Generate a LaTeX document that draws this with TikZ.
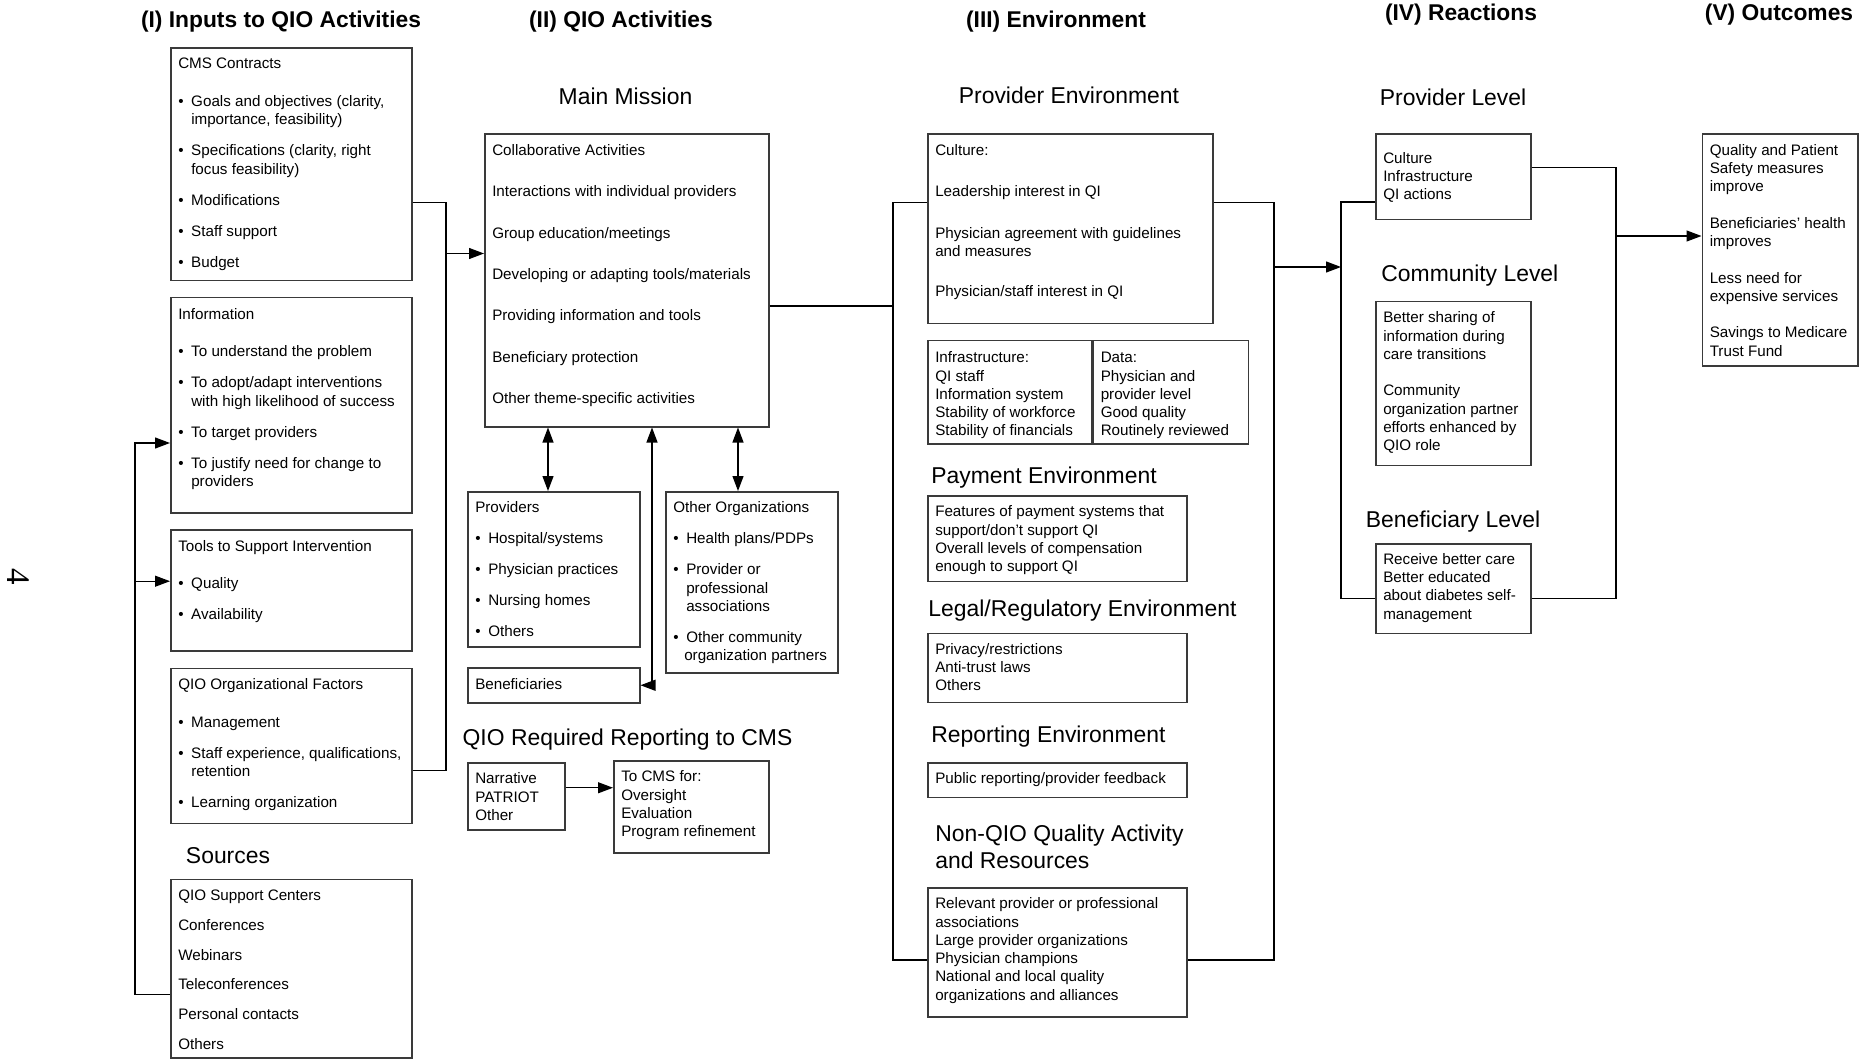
\documentclass[tikz,border=0pt]{standalone}
\usepackage{fontspec}
\setmainfont{Liberation Sans}
\newfontfamily\serifpage{Liberation Serif}
\usetikzlibrary{arrows.meta,calc}
\definecolor{boxline}{HTML}{3A3A3A}
\newcommand{\boxfont}{\fontsize{7.6pt}{9.15pt}\selectfont}
\newcommand{\headfont}{\fontsize{11.45pt}{13.3pt}\selectfont}
\newcommand{\titlefont}{\fontsize{11.4pt}{13pt}\selectfont\bfseries}
\newcommand{\itm}{\makebox[6.5pt][l]{\textbullet}}
\newcommand{\itc}{\hspace*{6.5pt}}
\newcommand{\boxtext}[4][11pt]{\begin{minipage}[c][#3][t]{#2}\rule{0pt}{#1}#4\end{minipage}}
\tikzset{
  >={Triangle[length=7.5pt,width=5.5pt]},
  infobox/.style={
    draw=boxline,
    line width=0.75pt,
    anchor=north west,
    inner xsep=3.75pt,
    inner ysep=0pt,
    font=\boxfont,
  },
  heading/.style={font=\headfont, inner sep=0pt},
  coltitle/.style={font=\titlefont, inner sep=0pt, anchor=base},
  link/.style={line width=0.6pt, draw=black},
}

\begin{document}
\begin{tikzpicture}[x=0.5pt, y=-0.5pt, line join=miter]
  \fill[white] (0,0) rectangle (1869,1059);
  \useasboundingbox (0,0) rectangle (1869,1059);

  \node[rotate=-90, font=\serifpage\fontsize{16.5pt}{16.5pt}\selectfont, inner sep=0pt] (pagenum) at (18.7,576.5) {4};

  \node[coltitle] (titleI) at (281,28) {(I) Inputs to QIO Activities};
  \node[coltitle] (titleII) at (621,28) {(II) QIO Activities};
  \node[coltitle] (titleIII) at (1056,28) {(III) Environment};
  \node[coltitle] (titleIV) at (1461,21) {(IV) Reactions};
  \node[coltitle] (titleV) at (1779,21) {(V) Outcomes};

  % (I) inputs
  \node[infobox] (cms) at (170,47.2) {\boxtext[10.5pt]{113pt}{116.2pt}{CMS Contracts\\[9.6pt]
    \itm Goals and objectives (clarity,\\
    \itc importance, feasibility)\\[6.35pt]
    \itm Specifications (clarity, right\\
    \itc focus feasibility)\\[6.35pt]
    \itm Modifications\\[6.35pt]
    \itm Staff support\\[6.35pt]
    \itm Budget}};
  \node[infobox] (info) at (170,296.8) {\boxtext{113pt}{107.6pt}{Information\\[9.45pt]
    \itm To understand the problem\\[6.35pt]
    \itm To adopt/adapt interventions\\
    \itc with high likelihood of success\\[6.35pt]
    \itm To target providers\\[6.35pt]
    \itm To justify need for change to\\
    \itc providers}};
  \node[infobox] (tools) at (170,529.3) {\boxtext[10.5pt]{113pt}{60.35pt}{Tools to Support Intervention\\[9.8pt]
    \itm Quality\\[6.2pt]
    \itm Availability}};
  \node[infobox] (qioorg) at (170,667.8) {\boxtext[10.5pt]{113pt}{77.35pt}{QIO Organizational Factors\\[9.8pt]
    \itm Management\\[6.35pt]
    \itm Staff experience, qualifications,\\
    \itc retention\\[6.35pt]
    \itm Learning organization}};
  \node[heading, anchor=base] (sourceshead) at (228,863) {Sources};
  \node[infobox] (sources) at (170,878.5) {\boxtext[10.5pt]{113pt}{89.25pt}{QIO Support Centers\\[5.8pt]
    Conferences\\[5.8pt]
    Webinars\\[5.8pt]
    Teleconferences\\[5.8pt]
    Personal contacts\\[5.8pt]
    Others}};

  % (II) QIO activities
  \node[heading, anchor=base] (mainhead) at (625.5,105) {Main Mission};
  \node[infobox] (main) at (484,133.3) {\boxtext[10.75pt]{134.5pt}{146.35pt}{Collaborative Activities\\[11.5pt]
    Interactions with individual providers\\[11.5pt]
    Group education/meetings\\[11.5pt]
    Developing or adapting tools/materials\\[11.5pt]
    Providing information and tools\\[11.5pt]
    Beneficiary protection\\[11.5pt]
    Other theme-specific activities}};
  \node[infobox] (providers) at (467,491) {\boxtext[10.5pt]{78.5pt}{77.5pt}{Providers\\[6.35pt]
    \itm Hospital/systems\\[6.35pt]
    \itm Physician practices\\[6.35pt]
    \itm Nursing homes\\[6.35pt]
    \itm Others}};
  \node[infobox] (otherorg) at (665,491) {\boxtext[10.5pt]{78.5pt}{90.5pt}{Other Organizations\\[6.35pt]
    \itm Health plans/PDPs\\[6.35pt]
    \itm Provider or\\
    \itc professional\\
    \itc associations\\[6.35pt]
    \itm Other community\\
    \hspace*{5.5pt}organization partners}};
  \node[infobox] (benef) at (467,667) {\boxtext{78.5pt}{17.5pt}{Beneficiaries}};
  \node[heading, anchor=base] (reporthead) at (627.5,745) {QIO Required Reporting to CMS};
  \node[infobox] (narrative) at (467,762) {\boxtext[10.5pt]{41pt}{33.5pt}{Narrative\\PATRIOT\\Other}};
  \node[infobox] (tocms) at (613,760) {\boxtext[10.5pt]{70pt}{46pt}{To CMS for:\\Oversight\\Evaluation\\Program refinement}};

  % (III) environment
  \node[heading, anchor=base] (provenvhead) at (1069,104) {Provider Environment};
  \node[infobox] (culture) at (927,133.3) {\boxtext[10.75pt]{135pt}{94.85pt}{Culture:\\[11.35pt]
    Leadership interest in QI\\[11.85pt]
    Physician agreement with guidelines\\
    and measures\\[10.85pt]
    Physician/staff interest in QI}};
  \node[infobox] (infra) at (927,340) {\boxtext{74.5pt}{51.5pt}{Infrastructure:\\QI staff\\Information system\\Stability of workforce\\Stability of financials}};
  \node[infobox] (data) at (infra.north east) {\boxtext{70pt}{51.5pt}{Data:\\Physician and\\provider level\\Good quality\\Routinely reviewed}};
  \node[heading, anchor=base west] (payhead) at (931,483) {Payment Environment};
  \node[infobox] (payment) at (927,495) {\boxtext[10.5pt]{122pt}{42.9pt}{Features of payment systems that\\support/don't support QI\\Overall levels of compensation\\enough to support QI}};
  \node[heading, anchor=base west] (legalhead) at (928,616.5) {Legal/Regulatory Environment};
  \node[infobox] (legal) at (927,632.5) {\boxtext[10.5pt]{122pt}{34.55pt}{Privacy/restrictions\\Anti-trust laws\\Others}};
  \node[heading, anchor=base west] (repenvhead) at (931,742) {Reporting Environment};
  \node[infobox] (public) at (927,762) {\boxtext[10.5pt]{122pt}{17.25pt}{Public reporting/provider feedback}};
  \node[heading, anchor=west, align=left] (nonqiohead) at (935,847) {Non-QIO Quality Activity\\and Resources};
  \node[infobox] (nonqio) at (927,887) {\boxtext[10.5pt]{122pt}{64.5pt}{Relevant provider or professional\\associations\\Large provider organizations\\Physician champions\\National and local quality\\organizations and alliances}};

  % (IV) reactions
  \node[heading, anchor=base west] (provlvlhead) at (1379.5,106) {Provider Level};
  \node[infobox] (provlvl) at (1375,133.5) {\boxtext[14.5pt]{70pt}{42.75pt}{Culture\\Infrastructure\\QI actions}};
  \node[heading, anchor=base west] (commlvlhead) at (1381,281.5) {Community Level};
  \node[infobox] (commlvl) at (1375,301) {\boxtext[10.5pt]{70pt}{81.75pt}{Better sharing of\\information during\\care transitions\\[9.1pt]
    Community\\organization partner\\efforts enhanced by\\QIO role}};
  \node[heading, anchor=base west] (benlvlhead) at (1365.5,527) {Beneficiary Level};
  \node[infobox] (benlvl) at (1375,543) {\boxtext[10.25pt]{70pt}{44.85pt}{Receive better care\\Better educated\\about diabetes self-\\management}};

  % (V) outcomes
  \node[infobox] (outcomes) at (1701.5,133.5) {\boxtext[10.5pt]{70.4pt}{115.9pt}{Quality and Patient\\Safety measures\\improve\\[9.1pt]
    Beneficiaries' health\\improves\\[9.1pt]
    Less need for\\expensive services\\[9.1pt]
    Savings to Medicare\\Trust Fund}};

  % connectors
  \coordinate (inA) at (446,202.5);
  \coordinate (inB) at (446,770.3);
  \coordinate (inC) at (446,253.5);
  \draw[link] (cms.east |- inA) -- (inA) -- (inB) -- (qioorg.east |- inB);
  \draw[link, ->] (inC) -- (main.west |- inC);

  \coordinate (fbA) at (135,994.4);
  \coordinate (fbB) at (135,443);
  \coordinate (fbC) at (135,581.2);
  \draw[link, ->] (sources.west |- fbA) -- (fbA) -- (fbB) -- (info.west |- fbB);
  \draw[link, ->] (fbC) -- (tools.west |- fbC);

  \coordinate (provlink) at ($(main.south west)+(64,0)$);
  \coordinate (benlink) at ($(main.south west)+(168,0)$);
  \coordinate (orglink) at ($(main.south west)+(254,0)$);
  \draw[link, <->] (provlink) -- (provlink |- providers.north);
  \draw[link, <->] (orglink) -- (orglink |- otherorg.north);
  \draw[link, <->] (benlink) -- (benlink |- benef.east) -- (benef.east);

  \coordinate (rep) at ($(narrative.east)+(0,-8.5)$);
  \draw[link, ->] (rep) -- (rep -| tocms.west);

  \coordinate (envLtop) at (893,202.7);
  \coordinate (envLbot) at (893,960);
  \coordinate (envLmid) at (893,306);
  \draw[link] (culture.west |- envLtop) -- (envLtop) -- (envLbot) -- (nonqio.west |- envLbot);
  \draw[link] (main.east |- envLmid) -- (envLmid);

  \coordinate (envRtop) at (1274,202.7);
  \coordinate (envRbot) at (1274,960);
  \coordinate (envRmid) at (1274,267);
  \draw[link] (culture.east |- envRtop) -- (envRtop) -- (envRbot) -- (nonqio.east |- envRbot);

  \coordinate (reaLtop) at (1341,202);
  \coordinate (reaLbot) at (1341,598.8);
  \coordinate (reaLmid) at (1341,267);
  \draw[link, ->] (envRmid) -- (reaLmid);
  \draw[link] (provlvl.west |- reaLtop) -- (reaLtop) -- (reaLbot) -- (benlvl.west |- reaLbot);

  \coordinate (reaRtop) at (1616,167.3);
  \coordinate (reaRbot) at (1616,598.8);
  \coordinate (reaRmid) at (1616,236);
  \draw[link] (provlvl.east |- reaRtop) -- (reaRtop) -- (reaRbot) -- (benlvl.east |- reaRbot);
  \draw[link, ->] (reaRmid) -- (outcomes.west |- reaRmid);
\end{tikzpicture}
\end{document}
